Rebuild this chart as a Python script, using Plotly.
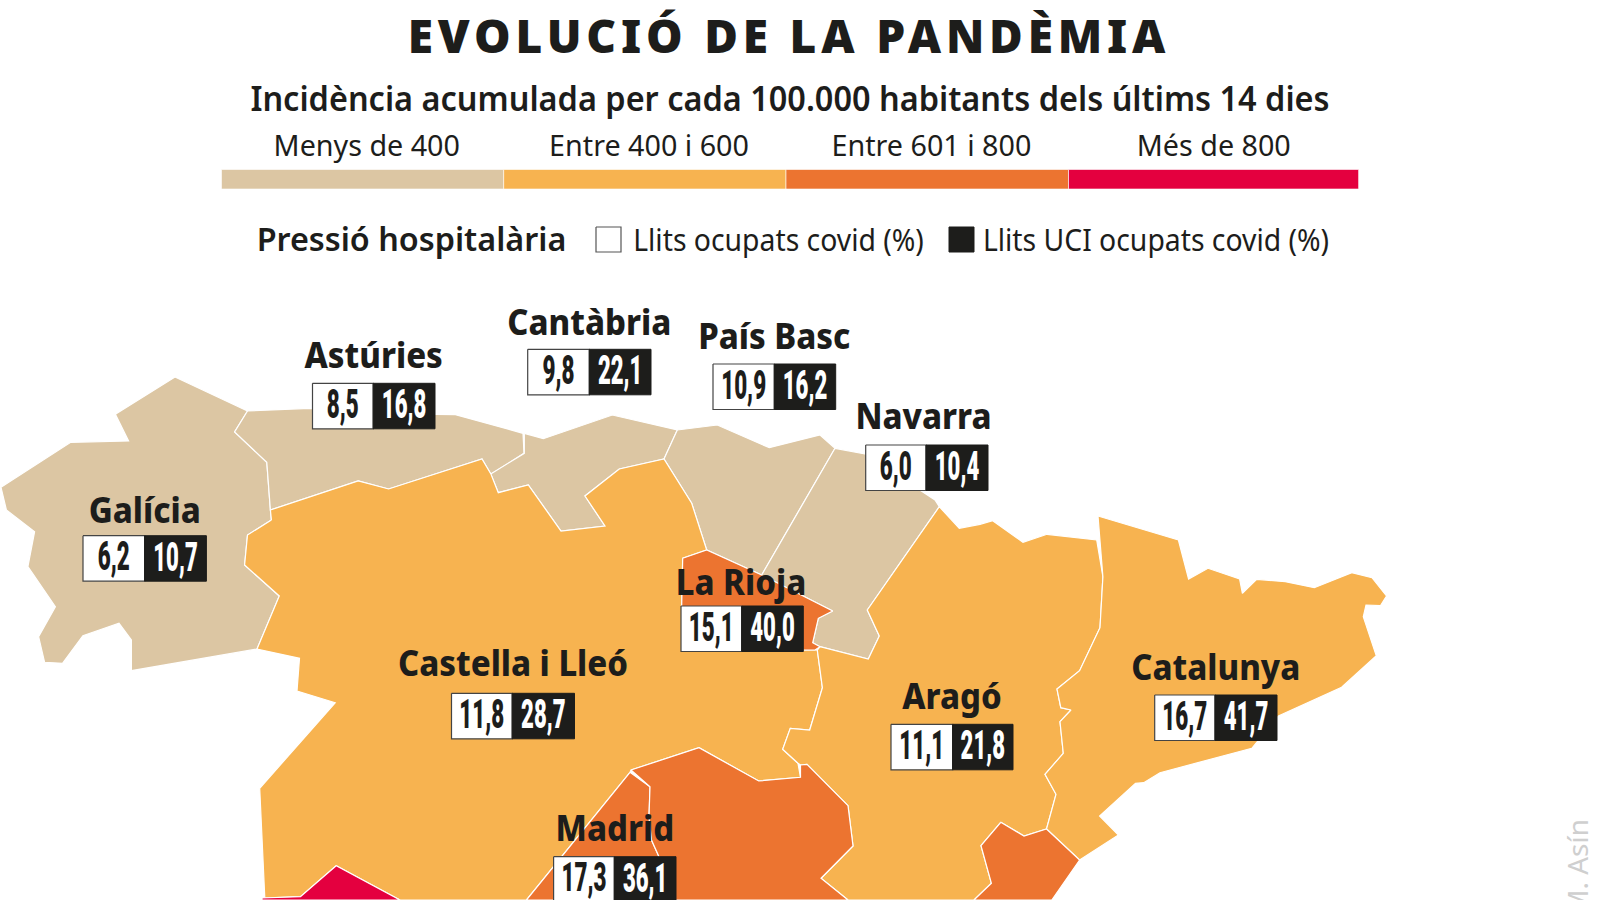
import plotly.graph_objects as go

TITLE = "EVOLUCIÓ DE LA PANDÈMIA"
SUBTITLE = "Incidència acumulada per cada 100.000 habitants dels últims 14 dies"
BIN_LABELS = ["Menys de 400", "Entre 400 i 600", "Entre 601 i 800", "Més de 800"]
BIN_COLORS = ["#DCC6A3", "#F7B350", "#EC7430", "#E4003F"]
BIN_EDGES = [221.5, 503.7, 786, 1068.5, 1358.6]

REGIONS = ["Galícia", "Astúries", "Cantàbria", "País Basc", "Navarra", "La Rioja",
           "Castella i Lleó", "Aragó", "Catalunya", "Madrid"]
BEDS = ["6,2", "8,5", "9,8", "10,9", "6,0", "15,1", "11,8", "11,1", "16,7", "17,3"]
ICU = ["10,7", "16,8", "22,1", "16,2", "10,4", "40,0", "28,7", "21,8", "41,7", "36,1"]

NAME_X = [144.7, 373.7, 589.3, 774.3, 923.5, 741, 513, 952, 1215.8, 614.8]
NAME_Y = [514.7, 359, 326.7, 340.7, 420.7, 586.5, 667, 700.2, 671, 832]
BOX_LEFT = [83, 312.5, 527.7, 713, 865.7, 681, 451.5, 891, 1154.7, 553.6]
BOX_MID = [144.6, 373.2, 589.3, 774.3, 926, 741.7, 512.2, 952.6, 1215, 614.3]
BOX_RIGHT = [206.4, 435, 651, 835.7, 988, 803.3, 574.5, 1013, 1277, 676]
BOX_TOP = [535.7, 383.3, 349.3, 364, 445, 606, 693.3, 724.3, 695, 856.7]
BOX_H = 45.5

GALICIA = [(175,377),(247.5,411),(234.6,432),(266.8,462.3),(270.4,510),(271.4,520),(247.5,535),(244.6,565),(279.3,596),(257,649),(131.4,670.7),(131.4,640),(119,623.3),(82.9,635.7),(62.5,663.3),(44.6,662.3),(38.6,636.7),(55.4,606.7),(27.9,566.7),(34.6,531.7),(6.4,510),(1,487.3),(70.7,442.3),(128.6,441),(115.4,414.3)]
ASTURIES = [(247.5,411),(310,408.3),(436,414.3),(455.4,414.7),(523,433.3),(524,453.3),(491,474.3),(482,459),(388.6,489),(358.2,481),(270.4,510),(266.8,462.3),(234.6,432)]
CANTABRIA = [(524.3,433.3),(543.3,438.7),(612.3,415),(677.3,430),(664,459),(619.3,469),(585,496),(605,526),(561,531),(528.3,485),(498.3,492.7),(490.7,474),(524.3,453.3)]
PAIS_BASC = [(677.3,430),(717.3,425),(769.3,447.7),(820,435),(835,448.3),(761.7,575),(706.7,550),(691.7,503.3),(664,459)]
NAVARRA = [(835,448.3),(865,454),(935,500),(939.3,506.7),(867.3,610),(879.3,636),(868.3,659),(820,646.7),(812.7,642.7),(818.3,618.3),(832.7,611),(761.7,575)]
RIOJA = [(682.7,558.3),(706.7,550),(761.7,575),(832.7,611),(818.3,618.3),(812.7,642.7),(820,646.7),(815,650),(682,650),(681.7,605)]
CASTELLA = [(271.4,520),(270.4,510),(358.2,481),(388.6,489),(482,459),(491,474.3),(498.3,492.7),(528.3,485),(561,531),(605,526),(585,496),(619.3,469),(664,459),(691.7,503.3),(706.7,550),(682.7,558.3),(681.7,605),(682,650),(815,650),(817.3,650),(822.4,687.7),(809.7,730),(790.3,728.3),(782.7,749.3),(798,763.3),(800.5,777.3),(758.7,781),(699,747.7),(631,770),(630,772.3),(526.5,900),(400,900),(336.2,865.7),(300.5,896.7),(264.8,898),(259.7,788.3),(335.2,702.7),(297,691),(299.5,658.3),(257,649),(279.3,596),(244.6,565),(247.5,535)]
EXTREMADURA = [(262,900),(262,898),(300.5,896.7),(336.2,865.7),(400,900)]
MADRID = [(630,772.3),(650,786.7),(649,816.7),(651.5,840),(659,856.7),(670,900),(526.5,900)]
CLM = [(631,770),(699,747.7),(758.7,781),(800.5,777.3),(800.5,765),(807,764.3),(848,805.7),(853,846),(821,878.3),(848,900),(670,900),(659,856.7),(651.5,840),(649,816.7),(650,786.7)]
ARAGO = [(939.3,506.7),(959.3,528.3),(980,524.3),(992.7,520.7),(1023,542.3),(1047,534.3),(1096.7,540),(1102.9,576.7),(1100,627.7),(1079.6,670.7),(1057,689),(1060.8,707.7),(1071,710),(1060,721.7),(1063.3,753.3),(1045,774.3),(1056,794.3),(1046.5,829),(1024,836),(1000.8,822.3),(981,845.7),(991.4,883.3),(974,900),(848,900),(821,878.3),(853,846),(848,805.7),(807,764.3),(800.5,765),(798,763.3),(782.7,749.3),(790.3,728.3),(809.7,730),(822.4,687.7),(817.3,650),(820,646.7),(868.3,659),(879.3,636),(867.3,610)]
VALENCIA = [(1000.8,822.3),(1024,836),(1046.5,829),(1079.6,860),(1051.8,900),(974,900),(991.4,883.3),(981,845.7)]
CATALUNYA = [(1098,516),(1178.4,540),(1188.6,579),(1208,568.3),(1239.6,579),(1242.4,593.3),(1256.7,579.3),(1285.3,581.7),(1314.3,587.7),(1351.8,572.7),(1372,577.7),(1386.5,596),(1380.4,605.7),(1366,605),(1363.3,616.7),(1376.3,655.7),(1341.6,687.3),(1278.4,716),(1251.8,748.3),(1160,772.7),(1143.7,782.7),(1135.5,783.3),(1099.6,816),(1118.4,835),(1079.6,860),(1046.5,829),(1056,794.3),(1045,774.3),(1063.3,753.3),(1060,721.7),(1071,710),(1060.8,707.7),(1057,689),(1079.6,670.7),(1100,627.7),(1102.9,576.7)]

SHAPES = [
    (GALICIA, 0), (ASTURIES, 0), (CANTABRIA, 0), (PAIS_BASC, 0), (NAVARRA, 0),
    (CASTELLA, 1), (ARAGO, 1), (CATALUNYA, 1),
    (RIOJA, 2), (MADRID, 2), (CLM, 2), (VALENCIA, 2),
    (EXTREMADURA, 3),
]

DARK = "#1D1D1B"
fig = go.Figure()


def poly(xs, ys, fill, line, width=1.0):
    fig.add_trace(go.Scatter(x=list(xs) + [xs[0]], y=list(ys) + [ys[0]], mode="lines", fill="toself",
                             fillcolor=fill, line=dict(color=line, width=width), hoverinfo="skip", showlegend=False))


def rect(x0, x1, y0, y1, fill, line=None, width=1.0):
    poly([x0, x1, x1, x0], [y0, y0, y1, y1], fill, line or fill, width)


def text(xs, ys, labels, family, size, color=DARK, weight=400):
    fig.add_trace(go.Scatter(x=xs, y=ys, text=labels, mode="text", textposition="middle center",
                             textfont=dict(family=family, size=size, color=color, weight=weight),
                             hoverinfo="skip", showlegend=False))


for pts, c in SHAPES:
    poly([p[0] for p in pts], [p[1] for p in pts], BIN_COLORS[c], "#FFFFFF", 1.2)

for i in range(4):
    rect(BIN_EDGES[i], BIN_EDGES[i + 1], 169.5, 189, BIN_COLORS[i], "#FFFFFF", 0.6)

rect(596, 621, 227, 252, "#FFFFFF", "#555555", 1.2)
rect(949, 974, 227, 252, DARK)

for l, m, r, t in zip(BOX_LEFT, BOX_MID, BOX_RIGHT, BOX_TOP):
    rect(l, m, t, t + BOX_H, "#FFFFFF", "#444444", 1.2)
    rect(m, r, t, t + BOX_H, DARK)

text([789], [41.5], [TITLE], "Noto Sans", 46, weight=900)
text([790], [103], [SUBTITLE], "Noto Sans", 34, weight=600)
text([366.8, 649, 931.4, 1213.8], [149] * 4, BIN_LABELS, "Noto Sans", 29)
text([411.5], [243], ["Pressió hospitalària"], "Noto Sans", 33, weight=600)
text([778.5, 1156], [243.5, 243.5], ["Llits ocupats covid (%)", "Llits UCI ocupats covid (%)"], "Noto Sans", 30)
text(NAME_X, NAME_Y, REGIONS, "Noto Sans", 35, weight=800)
text([(l + m) / 2 for l, m in zip(BOX_LEFT, BOX_MID)], [t + BOX_H / 2 + 2 for t in BOX_TOP], BEDS,
     "Roboto", 40, weight=900)
text([(m + r) / 2 for m, r in zip(BOX_MID, BOX_RIGHT)], [t + BOX_H / 2 + 2 for t in BOX_TOP], ICU,
     "Roboto", 41, color="#FFFFFF", weight=900)

fig.add_annotation(x=1577, y=867, xref="x", yref="y", text="M. Asín", textangle=-90, showarrow=False,
                   font=dict(family="Noto Sans", size=28, color="#CFCFCF"))

fig.update_layout(width=1600, height=900, margin=dict(l=0, r=0, t=0, b=0), paper_bgcolor="#FFFFFF",
                  plot_bgcolor="#FFFFFF", showlegend=False, hovermode=False,
                  xaxis=dict(range=[0, 1600], visible=False, fixedrange=True),
                  yaxis=dict(range=[900, 0], visible=False, fixedrange=True))

JS = """
document.body.style.margin='0';
document.documentElement.style.overflow='hidden';
const SX={46:1.0,34:0.955,29:0.99,33:0.98,30:0.945,35:0.94,40:0.56,41:0.54};
const LS={46:'4.8px'};
document.querySelectorAll('.textpoint text').forEach(t=>{
  const s=Math.round(parseFloat(t.style.fontSize));
  if(LS[s]) t.style.letterSpacing=LS[s];
  const sx=SX[s]||1;
  const x=parseFloat(t.getAttribute('x')), y=parseFloat(t.getAttribute('y'));
  t.setAttribute('transform','translate('+x+','+y+') scale('+sx+',1) translate('+(-x)+','+(-y)+')');
});
"""
fig.write_html("out.html", post_script=JS, config=dict(displayModeBar=False, staticPlot=True))
